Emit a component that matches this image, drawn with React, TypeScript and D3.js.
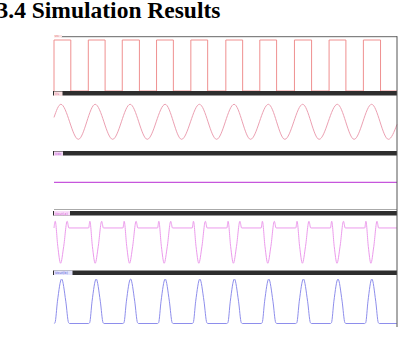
import React from 'react'
import * as d3 from 'd3'

// time axis in cycles of the 1 kHz input (ms)
const squareRise = [0, 1, 1.99, 2.99, 3.99, 5.01, 6, 7.01, 8.02, 9.02]
const squareFall = [0.49, 1.49, 2.49, 3.48, 4.48, 5.5, 6.49, 7.51, 8.51, 9.52]

// sine: extremes
const sineTimes = [0, 0.2, 0.71, 1.2, 1.71, 2.22, 2.72, 3.24, 3.72, 4.24, 4.74, 5.25, 5.73, 6.25, 6.73, 7.25, 7.73, 8.26, 8.75, 9.26, 9.75, 10]
const sineValues = [0.25, 1, -1, 1, -1, 1, -1, 1, -1, 1, -1, 1, -1, 1, -1, 1, -1, 1, -1, 1, -1, -0.15]

// flat output
const dcTimes = [0, 10]
const dcValues = [0, 0]

// start of each cycle for the pulse outputs
const cycleStarts = [0, 1.01, 2.01, 3.02, 4.03, 5.04, 6.04, 7.05, 8.06, 9.06]

// one cycle of the pink output: [fraction of cycle, volts]
const pinkCycle = [[0, 0.03], [0.035, 0.4], [0.11, -1.0], [0.19, -1.93], [0.28, -1.0], [0.38, 0.4], [0.43, 0.03], [0.995, 0.03]]
// one cycle of the blue output
const blueCycle = [[0, 0], [0.03, 0.02], [0.1, 0.5], [0.22, 1], [0.34, 0.5], [0.42, 0.02], [0.45, 0], [0.995, 0]]

const labels = ['Vin', 'Vs', 'Vdc', 'Vout(a)', 'Vout(b)']

const W = 401
const H = 338
const x0 = 54
const x1 = 397

export default function App() {
  const x = d3.scaleLinear().domain([0, 10]).range([x0, x1])

  const ySq = d3.scaleLinear().domain([0, 1]).range([91, 40])
  const ySin = d3.scaleLinear().domain([-1, 1]).range([139.3, 104.3])
  const yDc = d3.scaleLinear().domain([-1, 1]).range([209, 155.6])
  const yPink = d3.scaleLinear().domain([-2, 0.5]).range([264.5, 219.5])
  const yBlue = d3.scaleLinear().domain([0, 1]).range([323.5, 279])

  const sqPts: [number, number][] = []
  squareRise.forEach((r, i) => {
    sqPts.push([r, 0], [r, 1], [squareFall[i], 1], [squareFall[i], 0])
  })
  sqPts.push([10, 0])
  const sqPath = d3.line<[number, number]>().x(d => x(d[0])).y(d => ySq(d[1]))(sqPts)

  const sinPath = d3.line<number>()
    .x(d => x(sineTimes[d])).y(d => ySin(sineValues[d]))
    .curve(d3.curveMonotoneX)(d3.range(sineTimes.length))

  const dcPath = d3.line<number>().x(d => x(dcTimes[d])).y(d => yDc(dcValues[d]))(d3.range(dcTimes.length))

  const periodic = (shape: number[][]) => {
    const pts: [number, number][] = []
    cycleStarts.forEach((s, i) => {
      const len = (i < cycleStarts.length - 1 ? cycleStarts[i + 1] : 10) - s
      shape.forEach(p => pts.push([s + p[0] * len, p[1]]))
    })
    return pts
  }
  const pinkPath = d3.line<[number, number]>().x(d => x(d[0])).y(d => yPink(d[1]))
    .curve(d3.curveMonotoneX)(periodic(pinkCycle))
  const bluePath = d3.line<[number, number]>().x(d => x(d[0])).y(d => yBlue(d[1]))
    .curve(d3.curveMonotoneX)(periodic(blueCycle))

  // header bars of the panels
  const bars = [91, 151, 211, 270.5]
  const labelY = [35, 91.5, 151.5, 211, 270.5]
  const labelW = [8, 8.5, 9, 16, 18.5]
  const labelFill = ['#fbe3e3', '#fbe3e3', '#f6dcf6', '#f8ddf8', '#e4e4fb']
  const labelInk = ['#e06a6a', '#e080a0', '#c050d8', '#d860d8', '#5c5cd8']

  return (
    <svg width={W} height={H} style={{ position: 'absolute', left: 0, top: 0, background: '#fff' }}
      fontFamily="'Liberation Serif', 'Times New Roman', serif">
      <text x={-3.5} y={17.5} fontSize={23.5} fontWeight="bold" fill="#000">3.4 Simulation Results</text>

      <path d={sqPath ?? ''} fill="none" stroke="#ef9090" strokeWidth={1} />
      <path d={sinPath ?? ''} fill="none" stroke="#eca0b2" strokeWidth={1} />
      <path d={dcPath ?? ''} fill="none" stroke="#c656dc" strokeWidth={1.2} />
      <path d={pinkPath ?? ''} fill="none" stroke="#ec9aec" strokeWidth={1} />
      <path d={bluePath ?? ''} fill="none" stroke="#8e8eec" strokeWidth={1} />

      <line x1={61} x2={x1} y1={36.7} y2={36.7} stroke="#666" strokeWidth={1} />
      <line x1={x0} x2={x1} y1={209.5} y2={209.5} stroke="#aaa" strokeWidth={1} />
      {bars.map((b, i) => (
        <rect key={`bar_${i}`} x={x0 - 1} y={b} width={x1 - x0 + 1} height={4.5} fill="#2e2e2e" />
      ))}
      <line x1={x1} x2={x1} y1={36.2} y2={327} stroke="#555" strokeWidth={1} />

      {labels.map((l, i) => (
        <g key={`lab_${i}`}>
          <rect x={x0} y={labelY[i]} width={labelW[i]} height={i === 0 ? 2.5 : 4.5} fill={labelFill[i]} />
          <text x={x0 + 0.8} y={labelY[i] + (i === 0 ? 2.3 : 3.6)} fontSize={i === 0 ? 2.6 : 3.6}
            fontFamily="'DejaVu Sans', sans-serif" fill={labelInk[i]}>{l}</text>
        </g>
      ))}
    </svg>
  )
}
